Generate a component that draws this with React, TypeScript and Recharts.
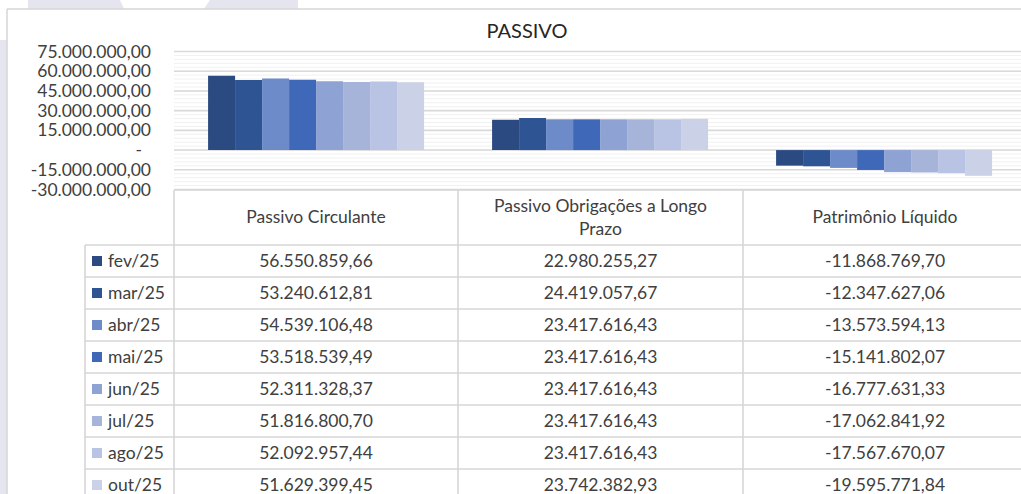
import { BarChart, Bar, XAxis, YAxis, CartesianGrid } from "recharts";

const months = ["fev/25", "mar/25", "abr/25", "mai/25", "jun/25", "jul/25", "ago/25", "out/25"];
const categories = ["Passivo Circulante", "Passivo Obrigações a Longo Prazo", "Patrimônio Líquido"];
const headerLines = [["Passivo Circulante"], ["Passivo Obrigações a Longo", "Prazo"], ["Patrimônio Líquido"]];

const circulante = [56550859.66, 53240612.81, 54539106.48, 53518539.49, 52311328.37, 51816800.7, 52092957.44, 51629399.45];
const longoPrazo = [22980255.27, 24419057.67, 23417616.43, 23417616.43, 23417616.43, 23417616.43, 23417616.43, 23742382.93];
const patrimonio = [-11868769.7, -12347627.06, -13573594.13, -15141802.07, -16777631.33, -17062841.92, -17567670.07, -19595771.84];

const yTicks = [-30000000, -15000000, 0, 15000000, 30000000, 45000000, 60000000, 75000000];

const colors = ["#2C4A82", "#2F5494", "#6D8AC9", "#3F69B8", "#8EA2D4", "#A7B4DA", "#B9C3E3", "#CBD2E8"];

const series = [circulante, longoPrazo, patrimonio];

const data = categories.map((name, ci) => {
  const row: Record<string, any> = { name };
  months.forEach((m, mi) => {
    row[m] = series[ci][mi];
  });
  return row;
});

// minor gridlines every 3M
const minorTicks: number[] = [];
for (let v = -30000000; v <= 75000000; v += 3000000) minorTicks.push(v);

const FONT = "Lato, 'Open Sans', sans-serif";
const TEXT = "#404040";
const BORDER = "#d6d6d6";

function fmt(v: number) {
  if (v === 0) return "-";
  const [int, dec] = Math.abs(v).toFixed(2).split(".");
  return (v < 0 ? "-" : "") + int.replace(/\B(?=(\d{3})+(?!\d))/g, ".") + "," + dec;
}

function YTick({ x, y, payload }: any) {
  const zero = payload.value === 0;
  return (
    <text x={zero ? x - 9 : x} y={y} dy={6} textAnchor="end" fill={TEXT} fontSize={17.5} fontFamily={FONT}>
      {fmt(payload.value)}
    </text>
  );
}

// table geometry
const colX = [85, 174, 458, 743, 1027];
const headTop = 190;
const headBottom = 245;
const rowH = 32;

function DataTable() {
  const lastY = headBottom + rowH * months.length;
  return (
    <svg width={1021} height={494} style={{ position: "absolute", left: 0, top: 0 }}>
      <g stroke={BORDER} strokeWidth={1.6}>
        <line x1={colX[1]} y1={headTop} x2={1021} y2={headTop} />
        <line x1={colX[1]} y1={headTop} x2={colX[1]} y2={lastY} />
        <line x1={colX[0]} y1={headBottom} x2={colX[0]} y2={lastY} />
        {[2, 3].map((i) => (
          <line key={i} x1={colX[i]} y1={headTop} x2={colX[i]} y2={lastY} />
        ))}
        {months.map((_, i) => (
          <line key={i} x1={colX[0]} y1={headBottom + rowH * i} x2={1021} y2={headBottom + rowH * i} />
        ))}
      </g>
      {headerLines.map((lines, ci) => {
        const cx = (colX[ci + 1] + colX[ci + 2]) / 2;
        return lines.map((t, li) => (
          <text
            key={ci + "-" + li}
            x={cx}
            y={lines.length === 1 ? 223 : 211.5 + li * 23.5}
            textAnchor="middle"
            fill={TEXT}
            fontSize={17.5}
            fontFamily={FONT}
          >
            {t}
          </text>
        ));
      })}
      {months.map((m, mi) => {
        const top = headBottom + rowH * mi;
        return (
          <g key={m}>
            <rect x={92} y={top + 11} width={10} height={10} fill={colors[mi]} />
            <text x={108} y={top + 22} fill={TEXT} fontSize={17.5} fontFamily={FONT}>
              {m}
            </text>
            {series.map((s, ci) => (
              <text
                key={ci}
                x={(colX[ci + 1] + colX[ci + 2]) / 2}
                y={top + 22}
                textAnchor="middle"
                fill={TEXT}
                fontSize={17.5}
                fontFamily={FONT}
              >
                {fmt(s[mi])}
              </text>
            ))}
          </g>
        );
      })}
    </svg>
  );
}

export default function App() {
  return (
    <div style={{ position: "fixed", left: 0, top: 0, width: 1021, height: 494, overflow: "hidden", background: "#fff" }}>
      <svg width={1021} height={494} style={{ position: "absolute", left: 0, top: 0 }}>
        <polygon points="28,0 120,0 124,9 28,9" fill="#e5e5ef" />
        <polygon points="210,0 298,0 298,9 204,9" fill="#e5e5ef" />
        <rect x={0} y={40} width={7} height={454} fill="#e5e5ef" />
        <line x1={7} y1={9} x2={1021} y2={9} stroke={BORDER} strokeWidth={1.5} />
        <line x1={7} y1={9} x2={7} y2={494} stroke={BORDER} strokeWidth={1.5} />
        <text x={527} y={38} textAnchor="middle" fill="#262626" fontSize={20} fontFamily={FONT}>
          PASSIVO
        </text>
      </svg>
      <div style={{ position: "absolute", left: 0, top: 0 }}>
        <BarChart
          width={1040}
          height={200}
          data={data}
          margin={{ top: 51.5, right: 14, bottom: 10.5, left: 0 }}
          barGap={0}
          barCategoryGap="12%"
        >
          <CartesianGrid vertical={false} horizontalValues={minorTicks} stroke="#f1f1f1" strokeWidth={1} />
          <CartesianGrid vertical={false} stroke="#d9d9d9" strokeWidth={1.6} />
          <XAxis dataKey="name" hide />
          <YAxis
            width={174}
            domain={[-30000000, 75000000]}
            ticks={yTicks}
            interval={0}
            axisLine={false}
            tickLine={false}
            tickSize={0}
            tickMargin={23}
            tick={<YTick />}
          />
          {months.map((m, mi) => (
            <Bar key={m} dataKey={m} fill={colors[mi]} isAnimationActive={false} />
          ))}
        </BarChart>
      </div>
      <DataTable />
    </div>
  );
}
